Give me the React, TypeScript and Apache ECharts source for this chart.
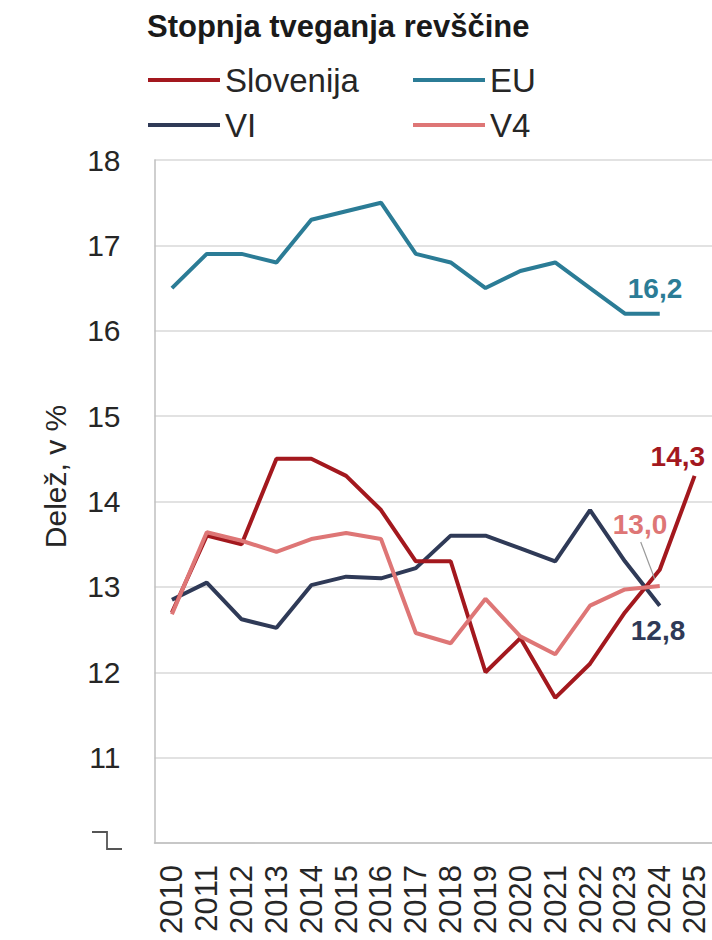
import React, { useEffect, useRef } from "react";
import * as echarts from "echarts";

const years = ["2010", "2011", "2012", "2013", "2014", "2015", "2016", "2017", "2018", "2019", "2020", "2021", "2022", "2023", "2024", "2025"];
const slovenija = [12.7, 13.6, 13.5, 14.5, 14.5, 14.3, 13.9, 13.3, 13.3, 12.0, 12.4, 11.7, 12.1, 12.7, 13.2, 14.3];
const eu = [16.5, 16.9, 16.9, 16.8, 17.3, 17.4, 17.5, 16.9, 16.8, 16.5, 16.7, 16.8, 16.5, 16.2, 16.2];
const vi = [12.85, 13.05, 12.62, 12.52, 13.02, 13.12, 13.1, 13.22, 13.6, 13.6, 13.45, 13.3, 13.9, 13.3, 12.78];
const v4 = [12.68, 13.64, 13.54, 13.41, 13.56, 13.63, 13.56, 12.46, 12.34, 12.86, 12.42, 12.21, 12.78, 12.97, 13.01];

const yMin = 10;
const yMax = 18;
const yStep = 1;

const TITLE = "Stopnja tveganja revščine";
const Y_NAME = "Delež, v %";

const C_SLO = "#a3181e";
const C_EU = "#2b7c96";
const C_VI = "#2f3a57";
const C_V4 = "#de7676";

const FONT = "'Liberation Sans', Arial, sans-serif";
const fmt = (v: number) => v.toFixed(1).replace(".", ",");

export default function App() {
  const ref = useRef<HTMLDivElement>(null);
  useEffect(() => {
    if (!ref.current) return;
    const chart = echarts.init(ref.current, null, { renderer: "svg" });
    const legendText = { fontSize: 33, color: "#262626", fontFamily: FONT, lineHeight: 36 };
    const mkLegend = (name: string, left: number, top: number) => ({
      data: [name],
      left,
      top,
      icon: "rect",
      itemWidth: 72,
      itemHeight: 4,
      itemGap: 0,
      padding: 0,
      textStyle: legendText,
    });
    const endLabel = (color: string, offset: number[]) => ({
      show: true,
      formatter: (p: any) => fmt(p.value as number),
      color,
      fontSize: 28,
      fontWeight: "bold",
      fontFamily: FONT,
      distance: 0,
      offset,
    });
    const lineSeries = (name: string, data: number[], color: string, offset: number[], z: number) => ({
      name,
      type: "line",
      data,
      z,
      symbol: "none",
      lineStyle: { color, width: 4 },
      itemStyle: { color },
      endLabel: endLabel(color, offset),
    });
    chart.setOption({
      animation: false,
      title: {
        text: TITLE,
        left: 147,
        top: 11,
        padding: 0,
        textStyle: { fontSize: 31, fontWeight: "bold", color: "#1a1a1a", fontFamily: FONT },
      },
      legend: [
        mkLegend("Slovenija", 148, 62),
        mkLegend("EU", 413, 62),
        mkLegend("VI", 148, 107),
        mkLegend("V4", 413, 107),
      ],
      grid: { left: 154.5, top: 160, width: 560, height: 683 },
      xAxis: {
        type: "category",
        data: years,
        boundaryGap: true,
        axisLine: { lineStyle: { color: "#bfbfbf", width: 1.5 } },
        axisTick: { alignWithLabel: true, length: 10, lineStyle: { color: "#bfbfbf", width: 1.5 } },
        axisLabel: { interval: 0, rotate: 90, margin: 22, fontSize: 31, color: "#262626", fontFamily: FONT },
      },
      yAxis: {
        type: "value",
        min: yMin,
        max: yMax,
        interval: yStep,
        name: Y_NAME,
        nameLocation: "middle",
        nameGap: 84,
        nameTextStyle: { fontSize: 30, color: "#262626", fontFamily: FONT, padding: [0, 0, 0, 50] },
        axisLine: { show: true, lineStyle: { color: "#bfbfbf", width: 1.5 } },
        axisTick: { show: false },
        splitLine: { lineStyle: { color: "#d9d9d9", width: 1.5 } },
        axisLabel: {
          margin: 34,
          fontSize: 30,
          color: "#262626",
          fontFamily: FONT,
          formatter: (v: number) => (v === yMin ? "" : String(v)),
        },
      },
      series: [
        lineSeries("EU", eu, C_EU, [-32, -25], 2),
        lineSeries("VI", vi, C_VI, [-29, 25], 3),
        lineSeries("Slovenija", slovenija, C_SLO, [-44, -19], 4),
        lineSeries("V4", v4, C_V4, [-47, -62], 5),
      ],
    });

    const last = v4.length - 1;
    const p = chart.convertToPixel({ gridIndex: 0 }, [years[last], v4[last]]) as number[];
    const y0 = chart.convertToPixel({ yAxisIndex: 0 }, yMin) as number;
    chart.setOption({
      graphic: [
        {
          type: "line",
          shape: { x1: p[0] - 19, y1: p[1] - 44, x2: p[0] - 5, y2: p[1] - 7 },
          style: { stroke: "#9a9a9a", lineWidth: 1.2 },
          z: 10,
        },
        {
          type: "polyline",
          shape: { points: [[92, y0 - 11], [107, y0 - 11], [107, y0 + 6], [122, y0 + 6]] },
          style: { stroke: "#555555", lineWidth: 1.8, fill: null },
        },
      ],
    });
    return () => chart.dispose();
  }, []);
  return (
    <div
      ref={ref}
      style={{ position: "fixed", left: 0, top: 0, width: 712, height: 940, overflow: "hidden", background: "#fff" }}
    />
  );
}
